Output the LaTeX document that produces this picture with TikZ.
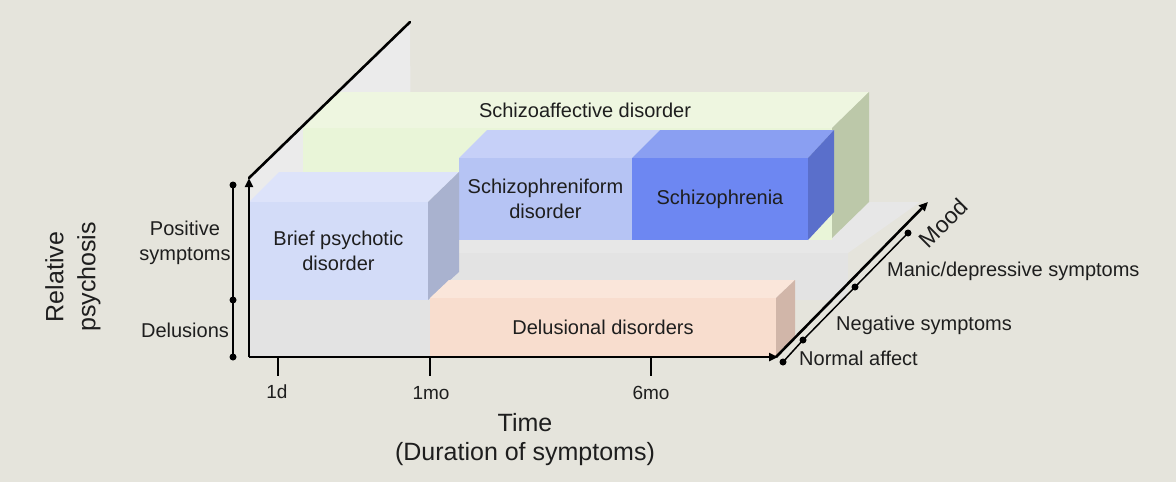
\documentclass[tikz,border=0pt]{standalone}
\usepackage{fontspec}
\setmainfont{Liberation Sans}
\usetikzlibrary{arrows.meta}
\definecolor{bg}{RGB}{229,228,220}
\definecolor{wall}{RGB}{235,235,235}
\definecolor{slabTop}{RGB}{231,231,231}
\definecolor{slabFront}{RGB}{227,227,227}
\definecolor{saTop}{RGB}{238,246,224}
\definecolor{saFront}{RGB}{233,245,216}
\definecolor{saSide}{RGB}{188,200,169}
\definecolor{sfTop}{RGB}{198,208,248}
\definecolor{sfFront}{RGB}{182,196,244}
\definecolor{szTop}{RGB}{138,159,242}
\definecolor{szFront}{RGB}{109,135,242}
\definecolor{szSide}{RGB}{90,111,203}
\definecolor{brTop}{RGB}{221,227,250}
\definecolor{brFront}{RGB}{211,220,248}
\definecolor{brSide}{RGB}{169,178,207}
\definecolor{dlTop}{RGB}{250,230,218}
\definecolor{dlFront}{RGB}{248,221,206}
\definecolor{dlSide}{RGB}{209,182,169}
\definecolor{txt}{RGB}{30,30,30}
\begin{document}
\begin{tikzpicture}[x=1pt,y=-1pt,
  face/.style={inner sep=0pt, outer sep=0pt, anchor=north west, align=center, text=txt, font=\fontsize{20}{25}\selectfont},
  lbl/.style={inner sep=0pt, align=center, text=txt, font=\fontsize{20}{25}\selectfont},
  big/.style={inner sep=0pt, align=center, text=txt, font=\fontsize{25}{29}\selectfont},
  axisline/.style={line width=2.6pt, draw=black, -{Triangle[length=9pt,width=8pt]}},
  plainaxis/.style={line width=2.6pt, draw=black, line cap=round},
  thinline/.style={line width=1.5pt, draw=black},
  tickline/.style={line width=2.4pt, draw=black},
  dot/.style={circle, fill=black, inner sep=0pt, minimum size=7pt},
]
% background and bounding box
\fill[bg] (0,0) rectangle (1176,482);
\useasboundingbox (0,0) rectangle (1176,482);

% left back wall
\fill[wall] (249,178) -- (410,22) -- (411,202) -- (249,202) -- cycle;

% grey floor slab
\fill[slabTop] (249,202) -- (920,202) -- (848,253) -- (249,253) -- cycle;
\fill[slabFront] (249,253) rectangle (848,300);

% schizoaffective box
\fill[saTop] (303,128) -- (832,128) -- (869,92) -- (339,92) -- cycle;
\node[face, fill=saFront, minimum width=529pt, minimum height=112pt] (sa) at (303,128) {};
\fill[saSide] (832,128) -- (869,92) -- (869,202) -- (832,238) -- cycle;
\node[lbl] (saLabel) at (585,110) {Schizoaffective disorder};

% schizophreniform box
\fill[sfTop] (459,158) -- (632,158) -- (660,130) -- (487,130) -- cycle;
\node[face, fill=sfFront, minimum width=173pt, minimum height=82pt] (sf) at (459,158) {Schizophreniform\\disorder};

% schizophrenia box
\fill[szTop] (632,158) -- (808,158) -- (834,130) -- (660,130) -- cycle;
\node[face, fill=szFront, minimum width=176pt, minimum height=82pt] (sz) at (632,158) {Schizophrenia};
\fill[szSide] (808,158) -- (834,130) -- (834,212) -- (808,240) -- cycle;

% brief psychotic disorder box
\fill[brTop] (249,202) -- (428,202) -- (459,172) -- (279,172) -- cycle;
\fill[brSide] (428,202) -- (459,172) -- (459,272) -- (428,300) -- cycle;
\node[face, fill=brFront, minimum width=179pt, minimum height=98pt] (br) at (249,202) {Brief psychotic\\disorder};

% delusions floor (grey) front
\node[face, fill=slabFront, minimum width=181pt, minimum height=57pt] (dg) at (249,300) {};

% delusional disorders box
\fill[dlTop] (430,298) -- (776,298) -- (795,280) -- (449,280) -- cycle;
\node[face, fill=dlFront, minimum width=346pt, minimum height=59pt] (dl) at (430,298) {Delusional disorders};
\fill[dlSide] (776,298) -- (795,280) -- (795,338) -- (776,357) -- cycle;

% axes
\coordinate (O) at (249,357);
\coordinate (Ytop) at (249,178);
\coordinate (Xend) at (778,357);
\coordinate (Zend) at (410,22);
\coordinate (Mstart) at (776,357);
\coordinate (Mend) at (928,202);
\draw[axisline] (O) -- (Ytop);
\draw[axisline] (O) -- (Xend);
\draw[plainaxis] (Ytop) -- (Zend);
\draw[axisline] (Mstart) -- (Mend);

% ticks
\coordinate (t1) at (278,357);
\coordinate (t2) at (430,357);
\coordinate (t3) at (651,357);
\draw[tickline] (t1) -- ++(0,19);
\draw[tickline] (t2) -- ++(0,19);
\draw[tickline] (t3) -- ++(0,19);
\node[lbl, font=\fontsize{19}{23}\selectfont] (l1) at (277,392) {1d};
\node[lbl, font=\fontsize{19}{23}\selectfont] (l2) at (431,393) {1mo};
\node[lbl, font=\fontsize{19}{23}\selectfont] (l3) at (651,393) {6mo};

% time label
\node[big] (time) at (525,440) {Time\\(Duration of symptoms)};

% left psychosis scale
\node[dot] (p1) at (233,185) {};
\node[dot] (p2) at (233,300) {};
\node[dot] (p3) at (233,357) {};
\draw[thinline] (p1.center) -- (p2.center);
\draw[thinline] (p2.center) -- (p3.center);
\node[lbl] (pos) at (185,243) {Positive\\symptoms};
\node[lbl] (del) at (185,330) {Delusions};
\node[big, rotate=90, font=\fontsize{25}{32}\selectfont] (rel) at (73,277) {Relative\\psychosis};

% mood scale
\node[dot] (m1) at (783,362) {};
\node[dot] (m2) at (803,340) {};
\node[dot] (m3) at (855,287) {};
\node[dot] (m4) at (908,233) {};
\draw[thinline] (m1.center) -- (m2.center);
\draw[thinline] (m2.center) -- (m3.center);
\draw[thinline] (m3.center) -- (m4.center);
\node[lbl, anchor=west] (na) at (799,358) {Normal affect};
\node[lbl, anchor=west] (ns) at (836,325) {Negative symptoms};
\node[lbl, anchor=west] (md) at (887,271) {Manic/depressive symptoms};
\node[lbl, rotate=45, font=\fontsize{23}{27}\selectfont] (mood) at (943,223) {Mood};
\end{tikzpicture}
\end{document}
